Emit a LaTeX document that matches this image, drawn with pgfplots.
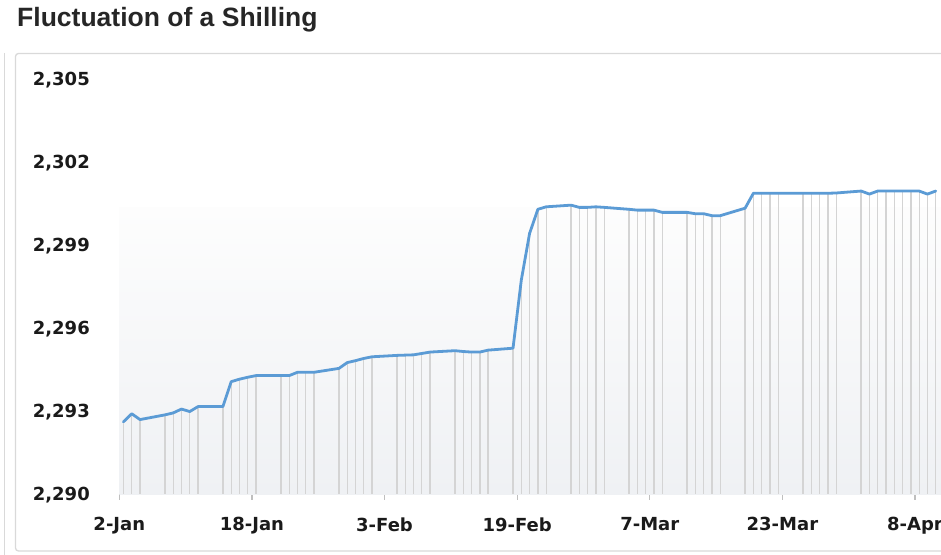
\documentclass[border=0pt]{standalone}
\usepackage{pgfplots}
\pgfplotsset{compat=1.18}
\usepackage{pgfplotstable}
\usepackage{fontspec}
\setmainfont{DejaVu Sans}
\newfontfamily\titlefont{Liberation Sans}
\definecolor{lineblue}{RGB}{91,155,213}
\definecolor{dropgray}{RGB}{212,212,212}
\definecolor{axisgray}{RGB}{191,191,191}
\definecolor{framegray}{RGB}{217,217,217}
\definecolor{titlegray}{RGB}{38,38,38}
\definecolor{labelblack}{RGB}{26,26,26}
\definecolor{bgtop}{RGB}{253,253,253}
\definecolor{bgbottom}{RGB}{239,241,244}

\pgfplotstableread{
d v
0 2292.61
1 2292.90
2 2292.69
5 2292.86
6 2292.93
7 2293.07
8 2292.98
9 2293.16
12 2293.16
13 2294.06
14 2294.15
15 2294.22
16 2294.28
19 2294.28
20 2294.28
21 2294.40
22 2294.40
23 2294.40
26 2294.54
27 2294.75
28 2294.82
29 2294.90
30 2294.96
33 2295.01
34 2295.02
35 2295.03
36 2295.08
37 2295.13
40 2295.18
41 2295.15
42 2295.13
43 2295.13
44 2295.20
47 2295.27
48 2297.73
49 2299.42
50 2300.29
51 2300.38
54 2300.44
55 2300.36
56 2300.36
57 2300.38
58 2300.36
61 2300.29
62 2300.26
63 2300.26
64 2300.26
65 2300.18
68 2300.18
69 2300.13
70 2300.13
71 2300.06
72 2300.06
75 2300.33
76 2300.87
77 2300.87
78 2300.87
79 2300.87
82 2300.87
83 2300.87
84 2300.87
85 2300.87
86 2300.88
89 2300.95
90 2300.84
91 2300.95
92 2300.95
93 2300.95
94 2300.95
95 2300.95
96 2300.95
97 2300.84
98 2300.95
}\shilling

\begin{document}
\begin{tikzpicture}
\path[use as bounding box] (0pt,0pt) rectangle (941pt,554pt);
\clip (0pt,0pt) rectangle (941pt,554pt);
\fill[white] (0pt,0pt) rectangle (941pt,554pt);
\draw[framegray, line width=1.3pt, rounded corners=3pt] (15.5pt,500.5pt) rectangle (970pt,3pt);
\draw[framegray, line width=1.3pt] (4.5pt,501pt) -- (4.5pt,-5pt);
\node[anchor=base west, inner sep=0pt, text=titlegray,
      font=\titlefont\bfseries\fontsize{26.5}{30}\selectfont] at (17pt,527pt) {Fluctuation of a Shilling};
\begin{axis}[
  at={(119.3pt,60pt)}, anchor=south west,
  scale only axis, width=833pt, height=415pt,
  xmin=-0.5, xmax=100, ymin=2290, ymax=2305,
  separate axis lines,
  axis x line*=bottom, axis y line*=left,
  x axis line style={draw=axisgray, line width=1.2pt, -},
  y axis line style={draw=none},
  xtick={-0.5,15.5,31.5,47.5,63.5,79.5,95.5},
  xticklabels={2-Jan,18-Jan,3-Feb,19-Feb,7-Mar,23-Mar,8-Apr},
  ytick={2290,2293,2296,2299,2302,2305},
  yticklabels={{2,290},{2,293},{2,296},{2,299},{2,302},{2,305}},
  tick align=outside,
  major tick length=6pt,
  xtick style={draw=axisgray, line width=1.2pt},
  ytick style={draw=none},
  ticklabel style={font=\bfseries\fontsize{18}{21}\selectfont, text=labelblack},
  yticklabel style={xshift=-20pt, yshift=-1.5pt},
  xticklabel style={yshift=-14pt},
  clip=true,
]
\fill[top color=bgtop, bottom color=bgbottom, draw=none]
  (axis cs:-0.5,2290) rectangle (axis cs:100,2300.35);
\addplot[draw=none, mark=none,
  error bars/.cd, y dir=minus, y explicit, error mark=none,
  error bar style={dropgray, line width=1.3pt}]
  table[x=d, y=v, y error expr=\thisrow{v}-2290] {\shilling};
\addplot[lineblue, line width=2.8pt, line join=round, line cap=round, mark=none]
  table[x=d, y=v] {\shilling};
\end{axis}
\end{tikzpicture}
\end{document}
